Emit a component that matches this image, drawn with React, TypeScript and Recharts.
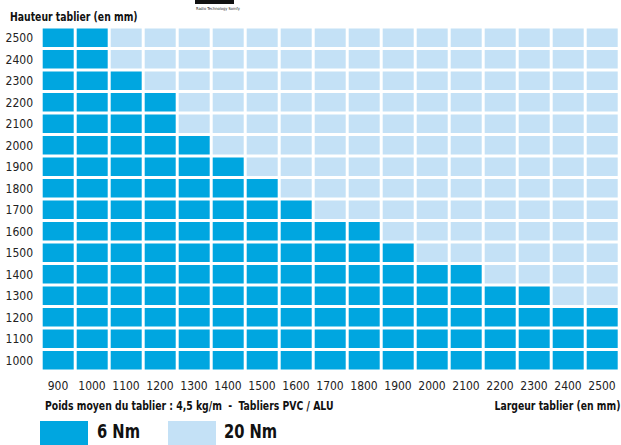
import { Bar, BarChart, Cell, XAxis, YAxis } from 'recharts'

// largeurs de tablier (mm)
const widths = [900, 1000, 1100, 1200, 1300, 1400, 1500, 1600, 1700, 1800, 1900, 2000, 2100, 2200, 2300, 2400, 2500]
// hauteurs de tablier (mm)
const heights = [1000, 1100, 1200, 1300, 1400, 1500, 1600, 1700, 1800, 1900, 2000, 2100, 2200, 2300, 2400, 2500]
// hauteur max couverte par le moteur 6 Nm, pour chaque largeur
const maxHeight6Nm = [2500, 2500, 2300, 2200, 2000, 1900, 1800, 1700, 1600, 1600, 1500, 1400, 1400, 1300, 1300, 1200, 1200]

const DARK = '#00a6e0'
const LIGHT = '#c4e1f6'
const FONT = "'Liberation Sans Narrow', 'DejaVu Sans Condensed', 'Roboto', sans-serif"

const STEP = 100
const data = widths.map((w, i) => {
  const row: Record<string, number | string> = { w: String(w), base: heights[0] - STEP / 2 }
  heights.forEach((h) => {
    row['h' + h] = STEP
  })
  row.limit = maxHeight6Nm[i]
  return row
})

const CellShape = (props: any) => {
  const { x, y, width, height, fill } = props
  return <rect x={x} y={y + 1.5} width={width} height={Math.max(height - 3, 0)} fill={fill} />
}

const narrow = { transform: 'scaleX(0.86)', whiteSpace: 'pre' as const, fontWeight: 'bold' as const, color: '#111' }

export default function App() {
  return (
    <div style={{ position: 'absolute', left: 0, top: 0, width: 621, height: 445, overflow: 'hidden', background: '#fff', fontFamily: FONT }}>
      <div style={{ position: 'absolute', left: 195, top: 0, width: 39, height: 4, background: '#111' }} />
      <div style={{ position: 'absolute', left: 196, top: 6, fontSize: 4, color: '#222', whiteSpace: 'nowrap' }}>Radio Technology Somfy</div>
      <div style={{ ...narrow, position: 'absolute', left: 10, top: 10, fontSize: 12, transformOrigin: 'left center' }}>
        Hauteur tablier (en mm)
      </div>
      <BarChart
        width={621}
        height={445}
        data={data}
        margin={{ top: 27, right: 2, left: 0, bottom: 44 }}
        barCategoryGap={1.7}
      >
        <XAxis
          dataKey="w"
          axisLine={false}
          tickLine={false}
          tickMargin={4}
          tick={{ fontSize: 12, fill: '#222', fontFamily: FONT }}
          interval={0}
        />
        <YAxis
          type="number"
          domain={[heights[0] - STEP / 2, heights[heights.length - 1] + STEP / 2]}
          ticks={heights}
          allowDataOverflow
          axisLine={false}
          tickLine={false}
          width={41}
          tick={{ fontSize: 12, fill: '#222', fontFamily: FONT }}
          interval={0}
        />
        <Bar dataKey="base" stackId="grid" fill="transparent" isAnimationActive={false} />
        {heights.map((h) => (
          <Bar key={h} dataKey={'h' + h} stackId="grid" shape={CellShape} isAnimationActive={false}>
            {data.map((d, i) => (
              <Cell key={i} fill={h <= maxHeight6Nm[i] ? DARK : LIGHT} />
            ))}
          </Bar>
        ))}
      </BarChart>
      <div style={{ ...narrow, position: 'absolute', left: 45, top: 399, fontSize: 12, transformOrigin: 'left center' }}>
        {'Poids moyen du tablier : 4,5 kg/m  -  Tabliers PVC / ALU'}
      </div>
      <div style={{ ...narrow, position: 'absolute', right: 1, top: 399, fontSize: 12, transformOrigin: 'right center' }}>
        Largeur tablier (en mm)
      </div>
      <div style={{ position: 'absolute', left: 40, top: 421, width: 48, height: 30, background: DARK }} />
      <div style={{ ...narrow, position: 'absolute', left: 97, top: 420, fontSize: 19, lineHeight: '22px', transformOrigin: 'left center' }}>6 Nm</div>
      <div style={{ position: 'absolute', left: 168, top: 421, width: 48, height: 30, background: LIGHT }} />
      <div style={{ ...narrow, position: 'absolute', left: 224, top: 420, fontSize: 19, lineHeight: '22px', transformOrigin: 'left center' }}>20 Nm</div>
    </div>
  )
}
